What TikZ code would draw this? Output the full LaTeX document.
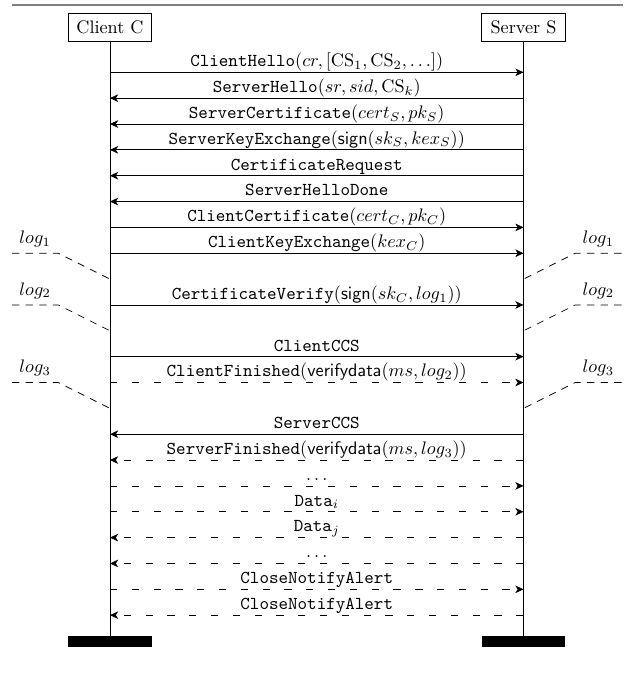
\documentclass[tikz,border=0pt]{standalone}
\usetikzlibrary{arrows.meta}
\begin{document}
\begin{tikzpicture}[x=0.5504pt, y=-0.5504pt,
  actor/.style={draw, minimum width=46pt, minimum height=15.6pt, inner sep=0pt},
  endbar/.style={fill=black, minimum width=46pt, minimum height=6.2pt, inner sep=0pt},
  msg/.style={-{Stealth[length=4.5pt,width=4.2pt,inset=1.3pt]}},
  dmsg/.style={msg, dash pattern=on 4pt off 8pt},
  lbl/.style={anchor=base, yshift=3.1pt, inner sep=0pt},
  logline/.style={dash pattern=on 4pt off 3.5pt},
  loglbl/.style={above},
]
\useasboundingbox (0,0) rectangle (623,677);
% top rule
\coordinate (r1) at (12,5);
\coordinate (r2) at (623,5);
\draw[line width=0.8pt, gray] (r1) -- (r2);

% actors
\node[actor] (C) at (110,27.5) {Client C};
\node[actor] (S) at (523.5,27.5) {Server S};
\node[endbar] (Cb) at (110,641.7) {};
\node[endbar] (Sb) at (523.5,641.7) {};
\draw (C) -- (Cb);
\draw (S) -- (Sb);

% message anchor points
\foreach \k/\y in {0/72.30,1/98.15,2/124.00,3/149.85,4/175.70,5/201.55,6/227.40,
  7/253.25,8/279.10,9/304.95,10/330.80,11/356.65,12/382.50,13/408.35,14/434.20,
  15/460.05,16/485.90,17/511.75,18/537.60,19/563.45,20/589.30,21/615.15}{
  \coordinate (c\k) at (110,\y);
  \coordinate (s\k) at (523.5,\y);
  \coordinate (la\k) at (12,\y);
  \coordinate (lb\k) at (58.3,\y);
  \coordinate (ra\k) at (621.5,\y);
  \coordinate (rb\k) at (575.2,\y);
}

\draw[msg] (c0) -- (s0) node[lbl, midway] {\texttt{ClientHello}$(cr,[\mathrm{CS}_1,\mathrm{CS}_2,\ldots])$};
\draw[msg] (s1) -- (c1) node[lbl, midway] {\texttt{ServerHello}$(sr,sid,\mathrm{CS}_k)$};
\draw[msg] (s2) -- (c2) node[lbl, midway] {\texttt{ServerCertificate}$(cert_S,pk_S)$};
\draw[msg] (s3) -- (c3) node[lbl, midway] {\texttt{ServerKeyExchange}$(\mathsf{sign}(sk_S,kex_S))$};
\draw[msg] (s4) -- (c4) node[lbl, midway] {\texttt{CertificateRequest}};
\draw[msg] (s5) -- (c5) node[lbl, midway] {\texttt{ServerHelloDone}};
\draw[msg] (c6) -- (s6) node[lbl, midway] {\texttt{ClientCertificate}$(cert_C,pk_C)$};
\draw[msg] (c7) -- (s7) node[lbl, midway] {\texttt{ClientKeyExchange}$(kex_C)$};
\draw[msg] (c9) -- (s9) node[lbl, midway] {\texttt{CertificateVerify}$(\mathsf{sign}(sk_C,log_1))$};
\draw[msg] (c11) -- (s11) node[lbl, midway] {\texttt{ClientCCS}};
\draw[dmsg] (c12) -- (s12) node[lbl, midway] {\texttt{ClientFinished}$(\mathsf{verifydata}(ms,log_2))$};
\draw[msg] (s14) -- (c14) node[lbl, midway] {\texttt{ServerCCS}};
\draw[dmsg] (s15) -- (c15) node[lbl, midway] {\texttt{ServerFinished}$(\mathsf{verifydata}(ms,log_3))$};
\draw[dmsg] (c16) -- (s16) node[lbl, midway] {$\ldots$};
\draw[dmsg] (c17) -- (s17) node[lbl, midway] {\texttt{Data}$_i$};
\draw[dmsg] (s18) -- (c18) node[lbl, midway] {\texttt{Data}$_j$};
\draw[dmsg] (s19) -- (c19) node[lbl, midway] {$\ldots$};
\draw[dmsg] (c20) -- (s20) node[lbl, midway] {\texttt{CloseNotifyAlert}};
\draw[dmsg] (s21) -- (c21) node[lbl, midway] {\texttt{CloseNotifyAlert}};

% log markers
\draw[logline] (la7) -- node[loglbl] {$log_1$} (lb7) -- (c8);
\draw[logline] (ra7) -- node[loglbl] {$log_1$} (rb7) -- (s8);
\draw[logline] (la9) -- node[loglbl] {$log_2$} (lb9) -- (c10);
\draw[logline] (ra9) -- node[loglbl] {$log_2$} (rb9) -- (s10);
\draw[logline] (la12) -- node[loglbl] {$log_3$} (lb12) -- (c13);
\draw[logline] (ra12) -- node[loglbl] {$log_3$} (rb12) -- (s13);
\end{tikzpicture}
\end{document}
